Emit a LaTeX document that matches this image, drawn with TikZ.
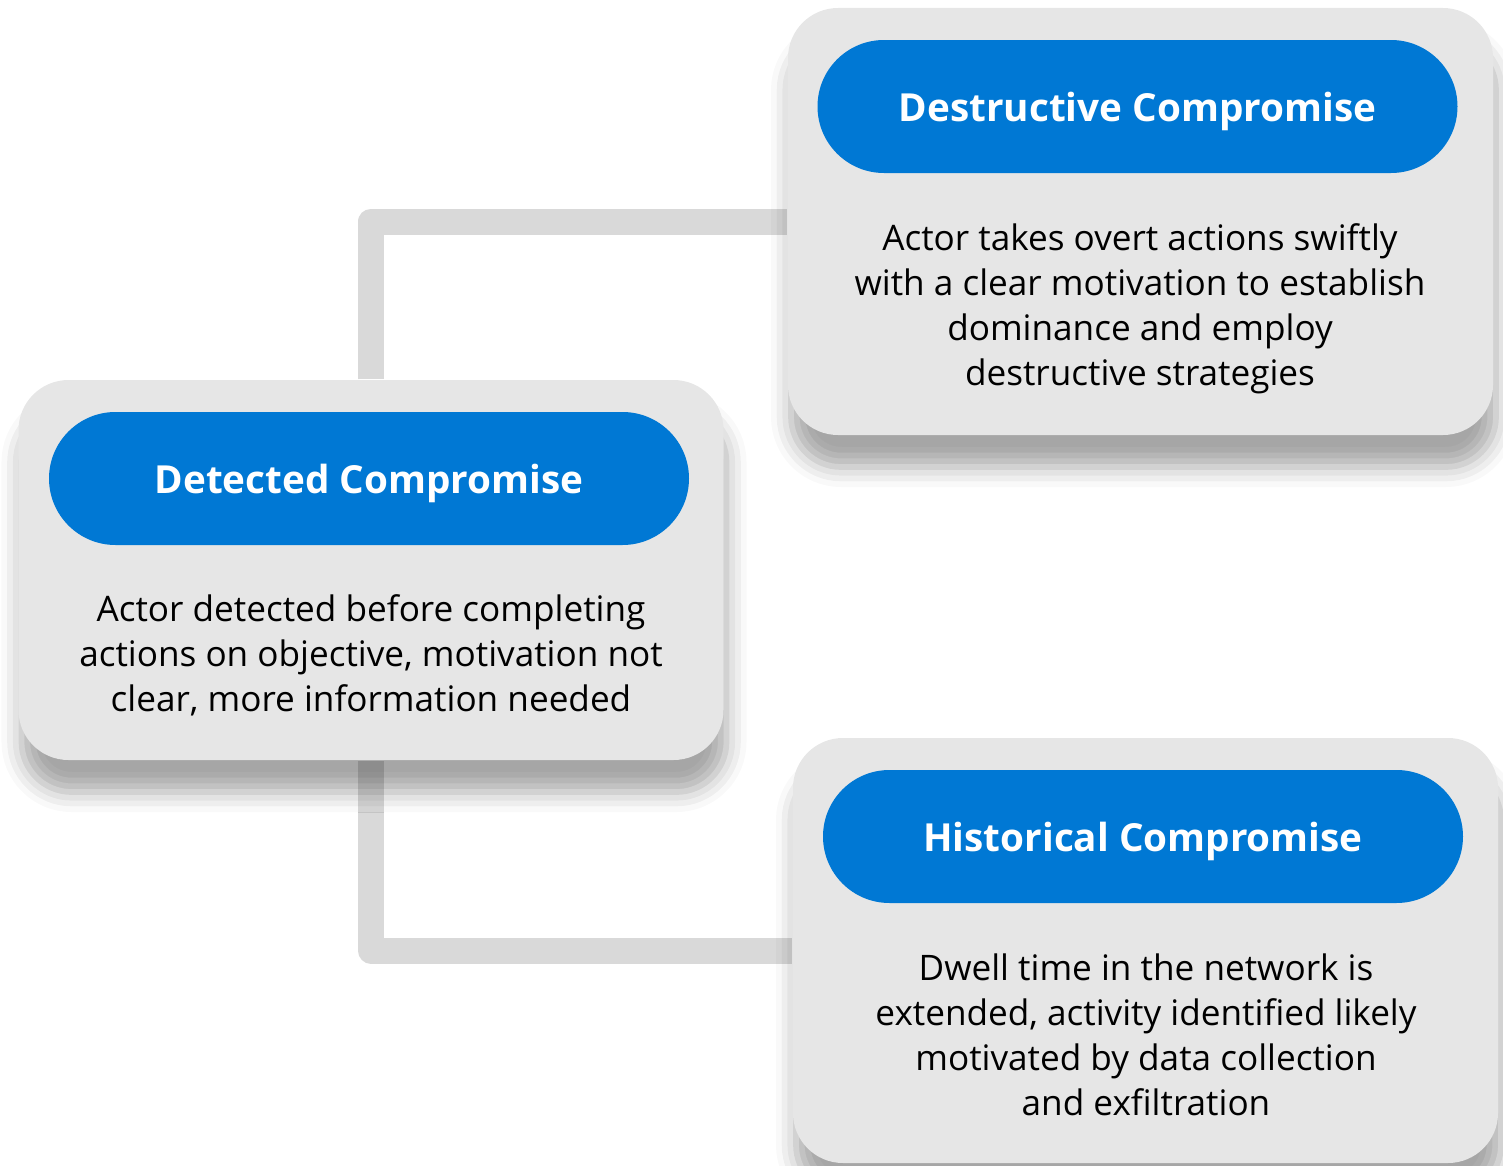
\documentclass[tikz,border=0pt]{standalone}
\usepackage{fontspec}
\setmainfont{Open Sans}
\usetikzlibrary{positioning, backgrounds, shadows.blur}

\definecolor{cardgrey}{HTML}{E6E6E6}
\definecolor{linkgrey}{HTML}{D9D9D9}
\definecolor{msblue}{HTML}{0078D4}

\tikzset{
  card/.style={fill=cardgrey, rounded corners=0.5cm, inner sep=0pt, minimum width=7.05cm,
    blur shadow={shadow xshift=0.03cm, shadow yshift=-0.32cm, shadow blur radius=0.2cm, shadow opacity=35}},
  pill/.style={fill=msblue, text=white, rounded corners=0.665cm, inner sep=0pt,
    minimum width=6.4cm, minimum height=1.33cm, text height=9.6pt, text depth=1pt,
    font=\bfseries\fontsize{11}{13}\selectfont},
  blurb/.style={align=center, font=\fontsize{10}{12.8}\selectfont},
  link/.style={linkgrey, line width=0.26cm, line join=round}
}

\begin{document}
\begin{tikzpicture}
  \useasboundingbox (0,0) rectangle (15.03,-11.66);
  % grey cards
  \node[card, minimum height=4.27cm] (des) at (11.405,-2.215) {};
  \node[card, minimum height=3.80cm] (det) at (3.71,-5.70) {};
  \node[card, minimum height=4.25cm] (his) at (11.455,-9.505) {};
  % connectors, behind the cards
  \begin{scope}[on background layer]
    \draw[link] (det.north) |- (des.west);
    \draw[link] (det.south) |- (his.west);
  \end{scope}
  % headers
  \node[pill] (desh) at (11.375,-1.065) {Destructive Compromise};
  \node[pill] (deth) at (3.69,-4.785) {Detected Compromise};
  \node[pill] (hish) at (11.43,-8.365) {Historical Compromise};
  % texts
  \node[blurb] (dest) at (11.40,-3.09) {Actor takes overt actions swiftly\\with a clear motivation to establish\\dominance and employ\\destructive strategies};
  \node[blurb] (dett) at (3.71,-6.55) {Actor detected before completing\\actions on objective, motivation not\\clear, more information needed};
  \node[blurb] (hist) at (11.46,-10.35) {Dwell time in the network is\\extended, activity identified likely\\motivated by data collection\\and exfiltration};
\end{tikzpicture}
\end{document}
